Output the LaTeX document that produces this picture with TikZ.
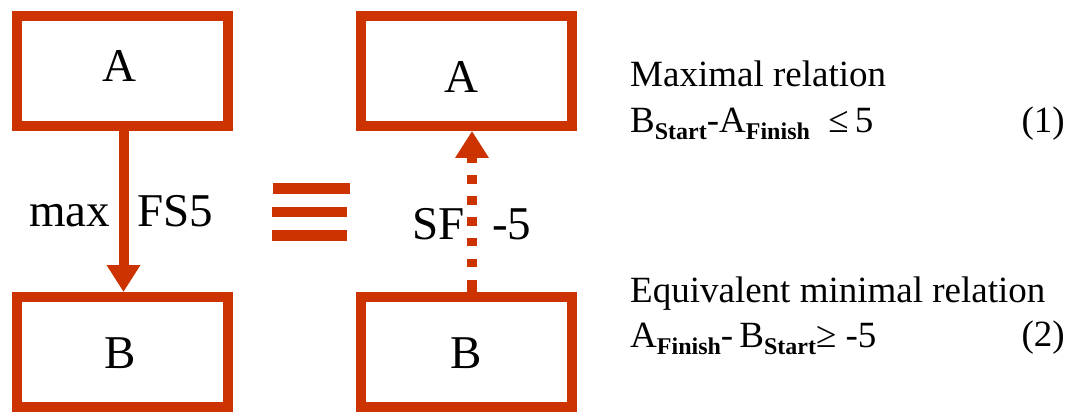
\documentclass[tikz,border=0pt]{standalone}
\usepackage{fontspec}
\setmainfont{Liberation Serif}
\usetikzlibrary{arrows.meta}
\definecolor{rel}{RGB}{204,51,0}
\newcommand\relsub[1]{\raisebox{-7pt}{\fontsize{24}{26}\selectfont\bfseries #1}}
\begin{document}
\begin{tikzpicture}[x=1pt,y=-1pt,
  box/.style={draw=rel,line width=10pt,minimum width=211pt,minimum height=110pt,inner sep=0pt},
  big/.style={font=\fontsize{47}{50}\selectfont,inner sep=0pt,anchor=base},
  lbl/.style={font=\fontsize{47}{50}\selectfont,inner sep=0pt,anchor=base west},
  txt/.style={font=\fontsize{37}{40}\selectfont,inner sep=0pt,anchor=base west},
  link/.style={draw=rel,line width=10pt},
  tip/.style={-{Triangle[length=27pt,width=32pt]}},
  bar/.style={fill=rel}]
\useasboundingbox (0,0) rectangle (1071,414);
% boxes
\node[box] (lA) at (122.5,71) {};
\node[box] (lB) at (122.5,352) {};
\node[box] (rA) at (466.5,71) {};
\node[box] (rB) at (466.5,352) {};
% box letters
\node[big] (tlA) at (119,82) {A};
\node[big] (tlB) at (120,368) {B};
\node[big] (trA) at (461.5,93) {A};
\node[big] (trB) at (466,368) {B};
% connectors
\draw[link,tip] ([xshift=1pt]lA.south) -- ([xshift=1pt]lB.north);
\draw[link,tip,dash pattern=on 8.5pt off 12.3pt,dash phase=16.8pt] ([xshift=5.5pt]rB.north) -- ([xshift=5.5pt]rA.south);
\draw[link] ([xshift=5.5pt]rB.north) -- ++(0,-5);
% connector labels
\node[lbl] (lmax) at (29,226) {max};
\node[lbl] (lfs) at (137,226) {FS5};
\node[lbl] (lsf) at (412,240) {SF};
\node[lbl] (lm5) at (492,240) {-5};
% equivalence sign
\fill[bar] (273,183) rectangle (350,194);
\fill[bar] (272,207) rectangle (347,217);
\fill[bar] (272,230) rectangle (347,241);
% relations
\node[txt] (t1) at (630,87) {Maximal relation};
\node[txt] (t2) at (630,133) {B\relsub{Start}-A\relsub{Finish}\ \ ≤\,5};
\node[txt,anchor=base east] (n1) at (1065,133) {(1)};
\node[txt] (t3) at (630,302) {Equivalent minimal relation};
\node[txt] (t4) at (630,347) {A\relsub{Finish}-\,B\relsub{Start}≥ -5};
\node[txt,anchor=base east] (n2) at (1065,346) {(2)};
\end{tikzpicture}
\end{document}
